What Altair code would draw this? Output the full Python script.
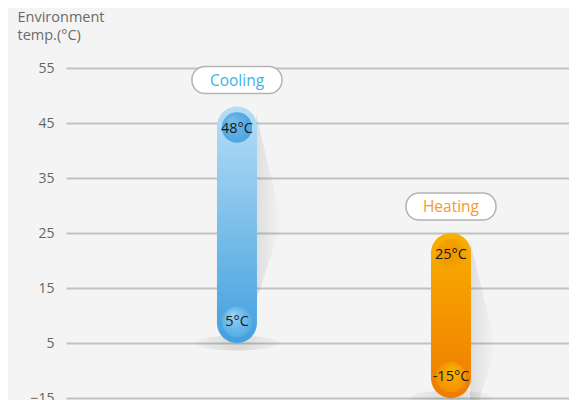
import altair as alt
import pandas as pd

# ---- data ----
modes = ["Cooling", "Heating"]
max_temp = [48, 25]
min_temp = [5, -15]
label_colors = ["#3db2e6", "#f49a2c"]
grid_values = [55, 50, 45, 40, 35, 30, 25, 20, 15, 10, 5, -5, -15]
tick_labels = [55, 45, 35, 25, 15, 5, -15]
y_title = ["Environment", "temp.(°C)"]

df = pd.DataFrame({"mode": modes, "max": max_temp, "min": min_temp, "lc": label_colors})

FONT = "Open Sans"

xenc = alt.X("mode:N", scale=alt.Scale(domain=modes, paddingInner=0, paddingOuter=0.1752, align=0.853), axis=None)
yscale = alt.Scale(domain=[-15, 5, 55], range=[330, 275, 0], nice=False, zero=False)

label_expr = "indexof([" + ",".join(str(v) for v in tick_labels) + "], datum.value) >= 0 ? datum.label : ''"

yaxis = alt.Axis(values=grid_values, grid=True, gridColor="#bfc2c2", gridWidth=2.2,
                 ticks=False, domain=False, labelExpr=label_expr, labelPadding=12,
                 labelFont=FONT, labelFontSize=14, labelColor="#666666",
                 title=y_title, titleAngle=0, titleAlign="left", titleBaseline="top",
                 titleX=-49, titleY=-58, titleFont=FONT, titleFontSize=14.5,
                 titleFontWeight="normal", titleColor="#6a6a6a", titleLineHeight=18)

base = alt.Chart(df)


def lin(c0, c1, horizontal=False):
    return alt.LinearGradient(gradient="linear",
                              stops=[alt.GradientStop(color=c0, offset=0), alt.GradientStop(color=c1, offset=1)],
                              x1=0, y1=0, x2=1 if horizontal else 0, y2=0 if horizontal else 1)


def rad(c0, c1, cx=0.35, cy=0.35):
    return alt.RadialGradient(gradient="radial",
                              stops=[alt.GradientStop(color=c0, offset=0), alt.GradientStop(color=c1, offset=1)],
                              x1=cx, y1=cy, r1=0, x2=0.5, y2=0.5, r2=0.6)


grid_layer = base.mark_point(opacity=0).encode(x=xenc, y=alt.Y("max:Q", scale=yscale, axis=yaxis))

shadow = base.mark_point(shape="M0.38,0.15 L0.9,2.3 L0.38,3.9 Z", size=10000, filled=True, strokeWidth=0,
                         fill=lin("rgba(0,0,0,0.13)", "rgba(0,0,0,0)", horizontal=True)).encode(
    x=xenc, y=alt.Y("max:Q", scale=yscale))

floor = base.mark_point(shape="M-1,0 A1,0.18 0 1,0 1,0 A1,0.18 0 1,0 -1,0 Z", size=7000, filled=True,
                        strokeWidth=0, fill=rad("rgba(0,0,0,0.16)", "rgba(0,0,0,0)", 0.5, 0.5)).encode(
    x=xenc, y=alt.Y("min:Q", scale=yscale))

layers = [grid_layer, shadow, floor]

styles = {
    "Cooling": dict(bar=lin("#b6def6", "#42a0de"), top=rad("#74bfec", "#4a9fdc", 0.3, 0.25),
                    bot=rad("#9ad2f3", "#4aa7e3", 0.35, 0.25)),
    "Heating": dict(bar=lin("#f8b000", "#f07c00"), top=rad("#f09000", "#f5a800", 0.4, 0.5),
                    bot=rad("#f8b800", "#f28a00", 0.6, 0.3)),
}

for m in modes:
    st = styles[m]
    sub = base.transform_filter(alt.datum.mode == m)
    layers.append(sub.mark_bar(size=40, cornerRadius=20, fill=st["bar"]).encode(
        x=xenc, y=alt.Y("max:Q", scale=yscale), y2="min:Q"))
    layers.append(sub.mark_circle(size=920, opacity=1, fill=st["top"], yOffset=21).encode(
        x=xenc, y=alt.Y("max:Q", scale=yscale)))
    layers.append(sub.mark_circle(size=920, opacity=1, fill=st["bot"], yOffset=-21).encode(
        x=xenc, y=alt.Y("min:Q", scale=yscale)))

# end labels
layers.append(base.transform_calculate(t="datum.max + '°C'").mark_text(
    font=FONT, fontSize=14.5, color="#1a1a1a", dy=22, baseline="middle").encode(
    x=xenc, y=alt.Y("max:Q", scale=yscale), text="t:N"))
layers.append(base.transform_calculate(t="datum.min + '°C'").mark_text(
    font=FONT, fontSize=14.5, color="#1a1a1a", dy=-21, baseline="middle").encode(
    x=xenc, y=alt.Y("min:Q", scale=yscale), text="t:N"))

# pills
layers.append(base.mark_bar(size=90, cornerRadius=13, fill="#ffffff", stroke="#b3b3b3", strokeWidth=1.5,
                            yOffset=-40, y2Offset=-13).encode(
    x=xenc, y=alt.Y("max:Q", scale=yscale), y2="max:Q"))
layers.append(base.mark_text(font=FONT, fontSize=15.5, dy=-26, baseline="middle").encode(
    x=xenc, y=alt.Y("max:Q", scale=yscale), text="mode:N", color=alt.Color("lc:N", scale=None)))

chart = alt.layer(*layers).properties(
    width=503, height=330,
    autosize=alt.AutoSizeParams(type="none"),
    padding={"left": 58, "top": 60, "right": 0, "bottom": 2},
    background="#f4f4f4",
).configure_view(stroke=None)

chart.save("out.html", embed_options={"renderer": "svg", "actions": False})
